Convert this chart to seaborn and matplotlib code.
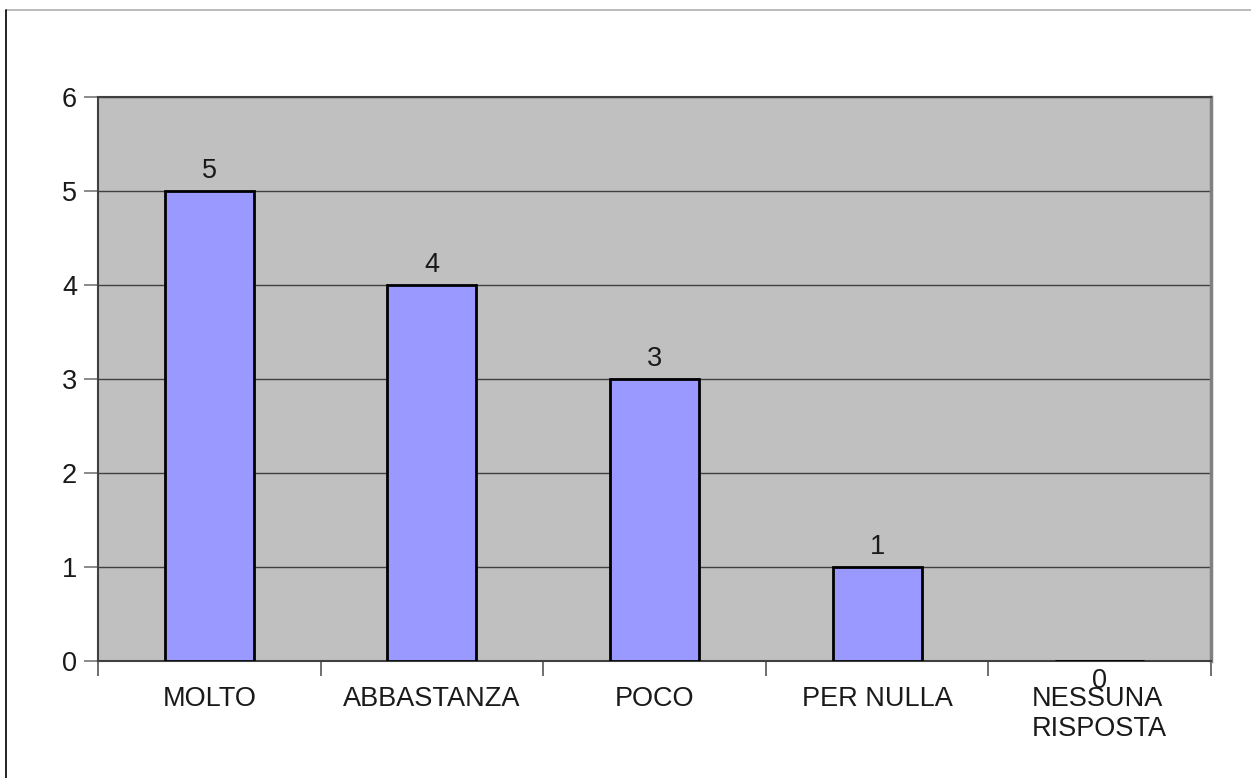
"""
Bar chart of survey answers (counts per response)
"""
import numpy as np
import matplotlib
matplotlib.use('Agg')
import matplotlib.pyplot as plt
from matplotlib.lines import Line2D
import seaborn as sns

# Data
categories = ['MOLTO', 'ABBASTANZA', 'POCO', 'PER NULLA', 'NESSUNA\nRISPOSTA']
counts = [5, 4, 3, 1, 0]
y_ticks = [0, 1, 2, 3, 4, 5, 6]

sns.set_style('white')
plt.rcParams['font.family'] = ['Liberation Sans', 'DejaVu Sans']
text_color = '#1a1a1a'
fs = 19.5

# Create figure
fig = plt.figure(figsize=(12.51, 7.78), dpi=100)
ax = fig.add_axes([98 / 1251, 117 / 778, (1211 - 98) / 1251, (661 - 97) / 778])
ax.set_facecolor('#c0c0c0')

sns.barplot(x=categories, y=counts, color='#9999ff', edgecolor='black',
            linewidth=2, width=0.4, saturation=1, ax=ax, zorder=3)

# Axes limits and grid
ax.set_xlim(-0.5, len(categories) - 0.5)
ax.set_ylim(0, 6)
ax.set_yticks(y_ticks)
ax.yaxis.grid(True, color='#404040', linewidth=1)
ax.set_axisbelow(True)

# Category boundaries as outward tick marks, labels at centers without ticks
ax.set_xticks(np.arange(-0.5, len(categories)), minor=True)
ax.tick_params(axis='x', which='minor', bottom=True, length=11, width=1.2,
               color='#555555', direction='out')
ax.tick_params(axis='x', which='major', bottom=True, length=0, pad=18,
               labelsize=fs, labelcolor=text_color)
ax.tick_params(axis='y', which='major', left=True, length=10, width=1.2,
               color='#777777', direction='out', pad=5, labelsize=fs,
               labelcolor=text_color)
for lbl in ax.get_xticklabels():
    lbl.set_multialignment('left')

ax.set_xlabel('')
ax.set_ylabel('')

for side in ['left', 'bottom', 'top']:
    ax.spines[side].set_color('#404040')
    ax.spines[side].set_linewidth(1.5)
ax.spines['right'].set_color('#808080')
ax.spines['right'].set_linewidth(2.5)
for s in ax.spines.values():
    s.set_visible(True)

# Value labels (zero label sits below the axis, as in the original)
for i, v in enumerate(counts):
    off = 14.4 if v > 0 else -14.5
    ax.annotate(f'{v}', (i, v), xytext=(0, off), textcoords='offset points',
                ha='center', va='center', fontsize=fs, color=text_color, zorder=5)

# Outer frame lines (top and left)
fig.add_artist(Line2D([6 / 1251, 1], [1 - 10 / 778] * 2, transform=fig.transFigure,
                      color='#b0b0b0', linewidth=1.2))
fig.add_artist(Line2D([6 / 1251] * 2, [0, 1 - 10 / 778], transform=fig.transFigure,
                      color='black', linewidth=1.2))

plt.savefig('out.png', dpi=100)
